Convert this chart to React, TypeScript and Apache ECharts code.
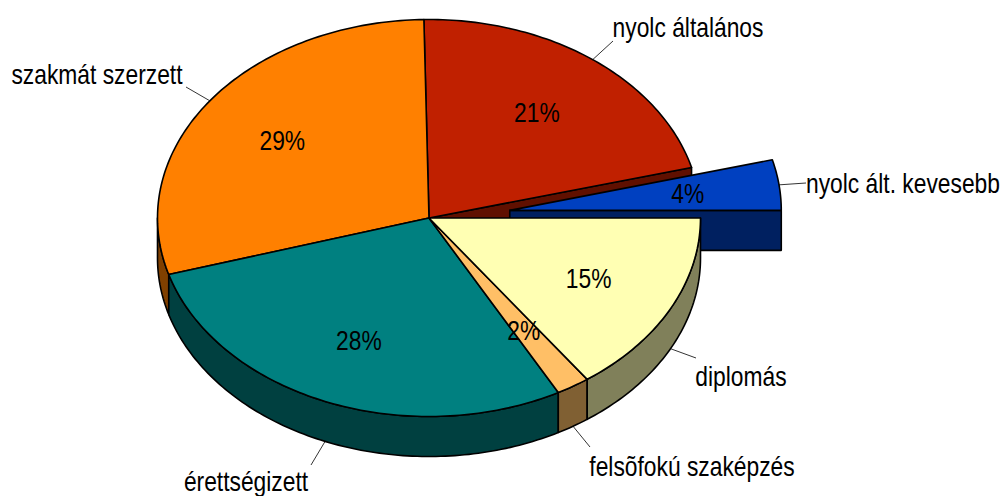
import React, { useEffect, useRef } from "react";
import * as echarts from "echarts";

// Data: share of each education level, counter-clockwise from the 3 o'clock position
const categories = ["nyolc ált. kevesebb", "nyolc általános", "szakmát szerzett", "érettségizett", "felsõfokú szaképzés", "diplomás"];
const shares = [4.1, 21.2, 29.3, 28.3, 2.0, 15.1];

// Styles
const topColors = ["#0040C0", "#C02000", "#FF8000", "#008080", "#FFBF66", "#FFFFB3"];
const wallColors = ["#002060", "#601000", "#804000", "#004040", "#806033", "#80805A"];

// Layout of the 3D pie
const CX = 429, CY = 218, RX = 271.5, RY = 198.5, DEPTH = 40;
const EXPLODE = 0.3;
const LABEL_R = 0.665;
const LW = 1.6;
const FONT = "'Liberation Sans', Arial, sans-serif";
const FONT_SIZE = 27;
const SCALE_X = 0.845;
const PCT_SIZE = 27;
// Outer labels: leader-line end, text centre
const outerLabels = [
  { end: [806, 183], text: [903, 183] },
  { end: [613, 41], text: [688, 27] },
  { end: [186, 87], text: [97, 74] },
  { end: [311, 465], text: [246, 481] },
  { end: [590, 447], text: [692, 466] },
  { end: [696, 358], text: [741, 376] },
];

const total = shares.reduce((a, b) => a + b, 0);
const angles: [number, number][] = [];
shares.reduce((acc, v) => {
  const next = acc + (v / total) * 360;
  angles.push([acc, next]);
  return next;
}, 0);
const rad = (d: number) => (d * Math.PI) / 180;
const pt = (t: number, cx = CX, cy = CY, k = 1): [number, number] => [cx + RX * k * Math.cos(rad(t)), cy - RY * k * Math.sin(rad(t))];
const arc = (a: number, b: number, cx = CX, cy = CY) => {
  const n = Math.max(2, Math.ceil(Math.abs(b - a) / 1));
  const out: [number, number][] = [];
  for (let i = 0; i <= n; i++) out.push(pt(a + ((b - a) * i) / n, cx, cy));
  return out;
};
const centerOf = (i: number): [number, number] => {
  if (i !== 0) return [CX, CY];
  const mid = (angles[0][0] + angles[0][1]) / 2;
  return pt(mid, CX, CY, EXPLODE);
};
const poly = (points: number[][], fill: string, extra: any = {}) => ({
  type: "polygon",
  shape: { points },
  style: { fill, stroke: "#000", lineWidth: LW, lineJoin: "round", ...extra },
});

// Exploded slice and the cut face it uncovers
const renderBack = (params: any) => {
  const i = params.dataIndex;
  if (i !== 0) return { type: "group", children: [] };
  const [a, b] = angles[i];
  const [cx, cy] = centerOf(i);
  const rimB = pt(b);
  return {
    type: "group",
    children: [
      poly([[CX, CY], rimB, [rimB[0], rimB[1] + DEPTH], [CX, CY + DEPTH]], wallColors[1]),
      poly([[cx, cy], pt(a, cx, cy), [pt(a, cx, cy)[0], cy + DEPTH], [cx, cy + DEPTH]], wallColors[i]),
      poly([[cx, cy], ...arc(a, b, cx, cy)], topColors[i]),
    ],
  };
};

// Outer walls of the front half
const renderWall = (params: any) => {
  const i = params.dataIndex;
  const a = Math.max(angles[i][0], 180);
  const b = Math.min(angles[i][1], 360);
  if (i === 0 || b <= a) return { type: "group", children: [] };
  const top = arc(a, b);
  const bottom = arc(a, b, CX, CY + DEPTH).reverse();
  return poly([...top, ...bottom], wallColors[i]);
};

// Top surfaces
const renderTop = (params: any) => {
  const i = params.dataIndex;
  if (i === 0) return { type: "group", children: [] };
  return poly([[CX, CY], ...arc(angles[i][0], angles[i][1])], topColors[i]);
};

const text = (s: string, x: number, y: number, size: number) => ({
  type: "text",
  x,
  y,
  scaleX: SCALE_X,
  style: { text: s, fontFamily: FONT, fontSize: size, fill: "#000", align: "center", verticalAlign: "middle" },
});

// Percent labels, leader lines and category names
const renderLabels = (params: any) => {
  const i = params.dataIndex;
  const [a, b] = angles[i];
  const mid = (a + b) / 2;
  const [cx, cy] = centerOf(i);
  const p = pt(mid, cx, cy, LABEL_R);
  const rim = pt(mid, cx, mid > 180 ? cy + DEPTH : cy);
  const layout = outerLabels[i];
  return {
    type: "group",
    children: [
      {
        type: "line",
        shape: { x1: rim[0], y1: rim[1], x2: layout.end[0], y2: layout.end[1] },
        style: { stroke: "#000", lineWidth: 0.8 },
      },
      text(`${Math.round(shares[i])}%`, p[0] - 1, p[1], PCT_SIZE),
      text(categories[i], layout.text[0], layout.text[1], FONT_SIZE),
    ],
  };
};

const rows = categories.map((name, i) => ({ name, value: shares[i] }));
const layer = (renderItem: any, z: number) => ({
  type: "custom",
  coordinateSystem: "none",
  silent: true,
  z,
  data: rows,
  renderItem,
});

export default function App() {
  const ref = useRef<HTMLDivElement>(null);
  useEffect(() => {
    const chart = echarts.init(ref.current!, undefined, { renderer: "svg" });
    chart.setOption({
      animation: false,
      backgroundColor: "#fff",
      series: [layer(renderBack, 1), layer(renderWall, 2), layer(renderTop, 3), layer(renderLabels, 4)],
    });
    return () => chart.dispose();
  }, []);
  return <div ref={ref} style={{ position: "fixed", left: 0, top: 0, width: 1006, height: 496 }} />;
}
